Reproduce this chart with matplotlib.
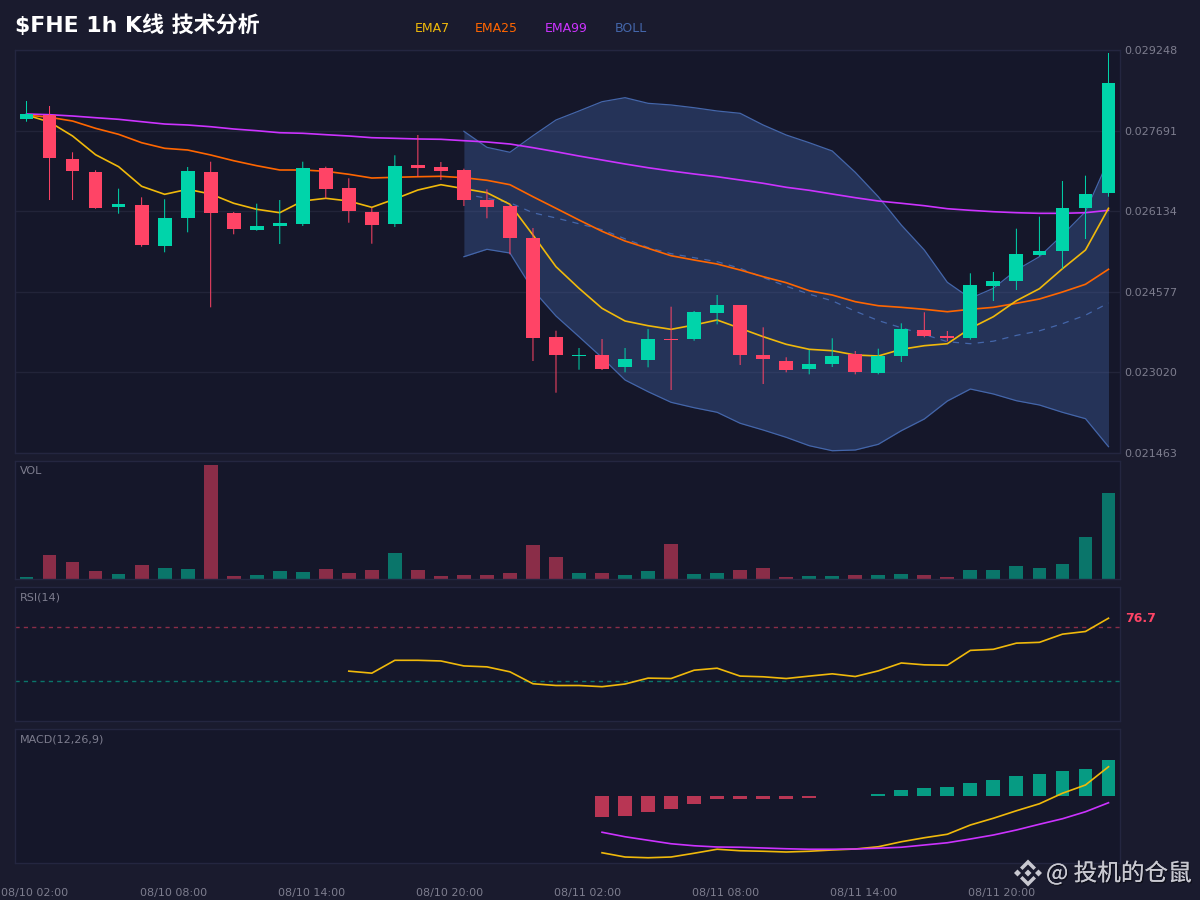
# -*- coding: utf-8 -*-
import numpy as np
import matplotlib
matplotlib.use("Agg")
import matplotlib.pyplot as plt
import matplotlib.patheffects as pe
from matplotlib.patches import Polygon
from matplotlib.transforms import Affine2D

BG_FIG = "#1a1b2e"
BG_AX = "#15172a"
GRID = "#222439"
SPINE = "#242640"
TXT = "#7d7d8e"
UP = "#00d4aa"
DOWN = "#ff4466"
C_EMA7 = "#f0b90b"
C_EMA25 = "#ff6600"
C_EMA99 = "#cc33ff"
C_BOLL = "#4466aa"

# precos em milionesimos
opens = [27915, 27992, 27137, 26891, 26209, 26254, 25467, 26003, 26891, 26099, 25777, 25848,
         25887, 26968, 26588, 26113, 25887, 27026, 26982, 26930, 26350, 26229, 25610, 23704,
         23337, 23356, 23118, 23259, 23665, 23665, 24161, 24316, 23356, 23246, 23086, 23188,
         23369, 23014, 23331, 23839, 23729, 23679, 24695, 24780, 25288, 25371, 26190, 26491]
closes = [28012, 27156, 26911, 26190, 26273, 25481, 25997, 26911, 26093, 25796, 25842, 25900,
          26963, 26569, 26138, 25862, 27001, 26974, 26916, 26350, 26209, 25616, 23684, 23356,
          23356, 23091, 23279, 23665, 23640, 24181, 24322, 23356, 23279, 23066, 23188, 23343,
          23033, 23343, 23858, 23717, 23690, 24714, 24786, 25301, 25359, 26190, 26466, 28616]
highs = [28263, 28166, 27272, 26924, 26569, 26402, 26364, 26988, 27090, 26118, 26279, 26350,
         27090, 26994, 26770, 26202, 27214, 27606, 27084, 26955, 26557, 26273, 25809, 23825,
         23491, 23665, 23491, 23858, 24289, 24206, 24515, 24316, 23891, 23312, 23453, 23679,
         23433, 23478, 23968, 24181, 23820, 24934, 24959, 25796, 26028, 26717, 26820, 29190]
lows = [27863, 26350, 26350, 26182, 26086, 25448, 25340, 25726, 24277, 25688, 25757, 25500,
        25848, 26383, 25912, 25506, 25829, 26800, 26737, 26234, 25997, 25301, 23240, 22628,
        23072, 23066, 23022, 23118, 22680, 23632, 23949, 23163, 22796, 23022, 22983, 23124,
        22983, 22983, 23221, 23698, 23621, 23652, 24399, 24612, 25268, 25023, 25597, 26414]
volumes = [2.3, 24.3, 17.3, 8.3, 4.7, 14.3, 11, 10, 113.7, 2.7, 3.7, 7.7, 6.7, 9.7, 6, 8.7,
           26.3, 8.7, 3, 3.7, 3.7, 5.7, 34, 21.7, 5.7, 6.3, 4, 8, 35, 5, 6, 8.7, 10.7, 2.3,
           3.3, 3.3, 4, 3.7, 5, 4.3, 1.7, 9, 9, 12.7, 10.7, 15.3, 42, 85.7]

ema7 = [27992, 27857, 27587, 27225, 26994, 26615, 26460, 26557, 26466, 26287, 26171, 26105,
        26331, 26383, 26331, 26209, 26370, 26543, 26646, 26569, 26491, 26267, 25674, 25062,
        24644, 24258, 24013, 23922, 23852, 23936, 24032, 23872, 23710, 23563, 23466, 23439,
        23356, 23337, 23466, 23536, 23574, 23872, 24096, 24405, 24637, 25023, 25384, 26190]
ema25 = [27992, 27948, 27876, 27735, 27619, 27457, 27349, 27316, 27220, 27109, 27013, 26930,
         26930, 26905, 26847, 26775, 26789, 26800, 26808, 26781, 26731, 26646, 26414, 26190,
         25964, 25746, 25558, 25417, 25274, 25191, 25114, 24998, 24869, 24753, 24598, 24515,
         24386, 24308, 24277, 24239, 24192, 24239, 24277, 24355, 24438, 24573, 24722, 25012]
ema99 = [28012, 27998, 27973, 27940, 27909, 27863, 27818, 27799, 27766, 27722, 27689, 27650,
         27639, 27612, 27587, 27554, 27542, 27529, 27523, 27496, 27471, 27432, 27361, 27283,
         27200, 27123, 27046, 26974, 26911, 26853, 26800, 26737, 26673, 26596, 26538, 26466,
         26395, 26331, 26287, 26240, 26182, 26151, 26124, 26105, 26093, 26093, 26105, 26151]

BOLL_START = 19
boll_upper = [27677, 27368, 27272, 27592, 27896, 28070, 28249, 28327, 28218, 28186, 28133, 28070,
              28025, 27799, 27606, 27457, 27297, 26885, 26414, 25867, 25384, 24760, 24451, 24644,
              24998, 25255, 25674, 26124, 27123]
boll_lower = [25255, 25398, 25326, 24612, 24109, 23710, 23304, 22873, 22647, 22442, 22338, 22249,
              22037, 21907, 21766, 21604, 21507, 21521, 21631, 21894, 22120, 22467, 22699, 22603,
              22473, 22390, 22249, 22126, 21585]
boll_mid = [26466, 26383, 26298, 26103, 26003, 25891, 25777, 25601, 25433, 25313, 25236, 25158,
            25031, 24853, 24685, 24531, 24403, 24202, 24022, 23882, 23752, 23613, 23574, 23623,
            23735, 23823, 23961, 24125, 24361]

RSI_START = 14
rsi = [37.2, 35.7, 45.3, 45.3, 44.8, 41.1, 40.4, 36.7, 27.8, 26.5, 26.5, 25.6, 27.6, 32.0, 31.7,
       37.9, 39.4, 33.5, 33.0, 31.7, 33.5, 35.2, 33.2, 37.4, 43.3, 41.9, 41.6, 52.7, 53.5, 58.1,
       58.7, 64.8, 66.8, 76.7]

MACD_START = 25
macd_hist = [-168, -160, -130, -104, -62, -24, -26, -24, -26, -16, 1, 4, 18, 46, 62, 70, 106, 130,
             158, 174, 200, 216, 288]
macd_dif = [-454, -488, -494, -488, -458, -426, -438, -442, -448, -442, -432, -424, -406, -366,
            -334, -306, -232, -178, -118, -62, 22, 88, 234]
macd_dea = [-290, -326, -354, -382, -398, -408, -410, -416, -422, -426, -426, -424, -418, -410,
            -392, -374, -344, -312, -272, -226, -182, -126, -54]

price_ticks = [0.021463, 0.023020, 0.024577, 0.026134, 0.027691, 0.029248]
time_labels = ["08/10 02:00", "08/10 08:00", "08/10 14:00", "08/10 20:00",
               "08/11 02:00", "08/11 08:00", "08/11 14:00", "08/11 20:00"]

W, H = 1200, 900
LINE_W = 1.2
BAR_W = 0.6
plt.rcParams["font.family"] = ["DejaVu Sans", "Noto Sans CJK SC"]


def px_axes(fig, top, bottom):
    ax = fig.add_axes([15 / W, 1 - bottom / H, 1105 / W, (bottom - top) / H])
    ax.set_facecolor(BG_AX)
    ax.set_xlim(-0.5, 47.5)
    for s in ax.spines.values():
        s.set_color(SPINE)
        s.set_linewidth(1)
    ax.tick_params(length=0, labelbottom=False, labelleft=False)
    ax.set_xticks([])
    ax.set_yticks([])
    return ax


def fig_text(fig, x, y, s, **kw):
    return fig.text(x / W, 1 - y / H, s, va="center", **kw)


fig = plt.figure(figsize=(12, 9), dpi=100, facecolor=BG_FIG)

# ---- candles ----
ax = px_axes(fig, 50, 453)
x = np.arange(48)
o = np.array(opens) / 1e6
c = np.array(closes) / 1e6
hi = np.array(highs) / 1e6
lo = np.array(lows) / 1e6
colors = [UP if cc >= oo else DOWN for oo, cc in zip(o, c)]

ax.set_ylim(price_ticks[0], price_ticks[-1])
ax.set_yticks(price_ticks)
ax.set_yticklabels(["%.6f" % t for t in price_ticks])
ax.yaxis.tick_right()
ax.tick_params(axis="y", length=0, labelright=True, labelsize=8, labelcolor=TXT, pad=3)
ax.grid(axis="y", color=GRID, lw=1)
ax.set_axisbelow(True)

bx = x[BOLL_START:]
up_b = np.array(boll_upper) / 1e6
low_b = np.array(boll_lower) / 1e6
ax.fill_between(bx, low_b, up_b, color=C_BOLL, alpha=0.36, lw=0, zorder=1.5)
ax.plot(bx, up_b, color=C_BOLL, lw=0.9, zorder=2)
ax.plot(bx, low_b, color=C_BOLL, lw=0.9, zorder=2)
ax.plot(bx, np.array(boll_mid) / 1e6, color=C_BOLL, lw=0.9, ls=(0, (5, 5)), zorder=2)

ax.plot(x, np.array(ema99) / 1e6, color=C_EMA99, lw=LINE_W, zorder=2.2)
ax.plot(x, np.array(ema25) / 1e6, color=C_EMA25, lw=LINE_W, zorder=2.3)
ax.plot(x, np.array(ema7) / 1e6, color=C_EMA7, lw=LINE_W, zorder=2.4)

wicks = ax.vlines(x, lo, hi, colors=colors, linewidth=0.72, zorder=3)
wicks.set_snap(False)
ax.bar(x, np.abs(c - o), bottom=np.minimum(o, c), width=BAR_W, color=colors, zorder=4, lw=0)

# ---- volume ----
ax_vol = px_axes(fig, 461, 579)
ax_vol.bar(x, volumes, width=BAR_W, color=colors, alpha=0.5, lw=0)
ax_vol.set_ylim(0, 118)

# ---- rsi ----
ax_rsi = px_axes(fig, 587, 721)
ax_rsi.set_ylim(0, 100)
ax_rsi.axhline(70, color=DOWN, lw=1, alpha=0.5, ls=(0, (3, 3)))
ax_rsi.axhline(30, color=UP, lw=1, alpha=0.5, ls=(0, (3, 3)))
ax_rsi.plot(x[RSI_START:], rsi, color=C_EMA7, lw=LINE_W)

# ---- macd ----
ax_macd = px_axes(fig, 729, 863)
mx = x[MACD_START:]
ax_macd.bar(mx, macd_hist, width=BAR_W, lw=0, alpha=0.7,
            color=[UP if v >= 0 else DOWN for v in macd_hist])
ax_macd.plot(mx, macd_dif, color=C_EMA7, lw=LINE_W)
ax_macd.plot(mx, macd_dea, color=C_EMA99, lw=LINE_W)
ax_macd.set_ylim(-536, 536)
ax_macd.set_xticks(np.arange(0, 48, 6) + 0.37)
ax_macd.set_xticklabels(time_labels)
ax_macd.tick_params(axis="x", length=0, labelbottom=True, labelsize=8, labelcolor=TXT, pad=18)

# ---- textos ----
fig_text(fig, 15, 25, "$FHE 1h K线 技术分析", color="white", fontsize=15.85, fontweight="bold")
for lx, lab, col in [(415, "EMA7", C_EMA7), (475, "EMA25", C_EMA25),
                     (545, "EMA99", C_EMA99), (615, "BOLL", C_BOLL)]:
    fig_text(fig, lx, 28, lab, color=col, fontsize=9)
fig_text(fig, 20, 471, "VOL", color=TXT, fontsize=8)
fig_text(fig, 20, 597, "RSI(14)", color=TXT, fontsize=8)
fig_text(fig, 20, 739, "MACD(12,26,9)", color=TXT, fontsize=8)
fig_text(fig, 1125, 618, "%.1f" % rsi[-1], color=DOWN, fontsize=9, fontweight="bold")

# marca d'agua
WM = "#c8c8d0"
fig_text(fig, 1046, 873, "@ 投机的仓鼠", color=WM, fontsize=17,
         family=["Noto Sans CJK SC", "DejaVu Sans"],
         path_effects=[pe.withSimplePatchShadow(offset=(1, -1), shadow_rgbFace="black", alpha=0.4),
                       pe.Normal()])
to_fig = Affine2D().scale(1 / W, -1 / H).translate(1028 / W, 1 - 873 / H)
logo_parts = [
    [(0, -3.5), (3.5, 0), (0, 3.5), (-3.5, 0)],
    [(-14, 0), (-10.5, -3.5), (-7, 0), (-10.5, 3.5)],
    [(14, 0), (10.5, -3.5), (7, 0), (10.5, 3.5)],
    [(0, -13.5), (8, -5.5), (5.5, -3), (0, -8.5), (-5.5, -3), (-8, -5.5)],
    [(0, 13.5), (8, 5.5), (5.5, 3), (0, 8.5), (-5.5, 3), (-8, 5.5)],
]
for part in logo_parts:
    fig.add_artist(Polygon(part, closed=True, facecolor=WM, edgecolor="none",
                           transform=to_fig + fig.transFigure))

fig.savefig("out.png", dpi=100, facecolor=BG_FIG)
